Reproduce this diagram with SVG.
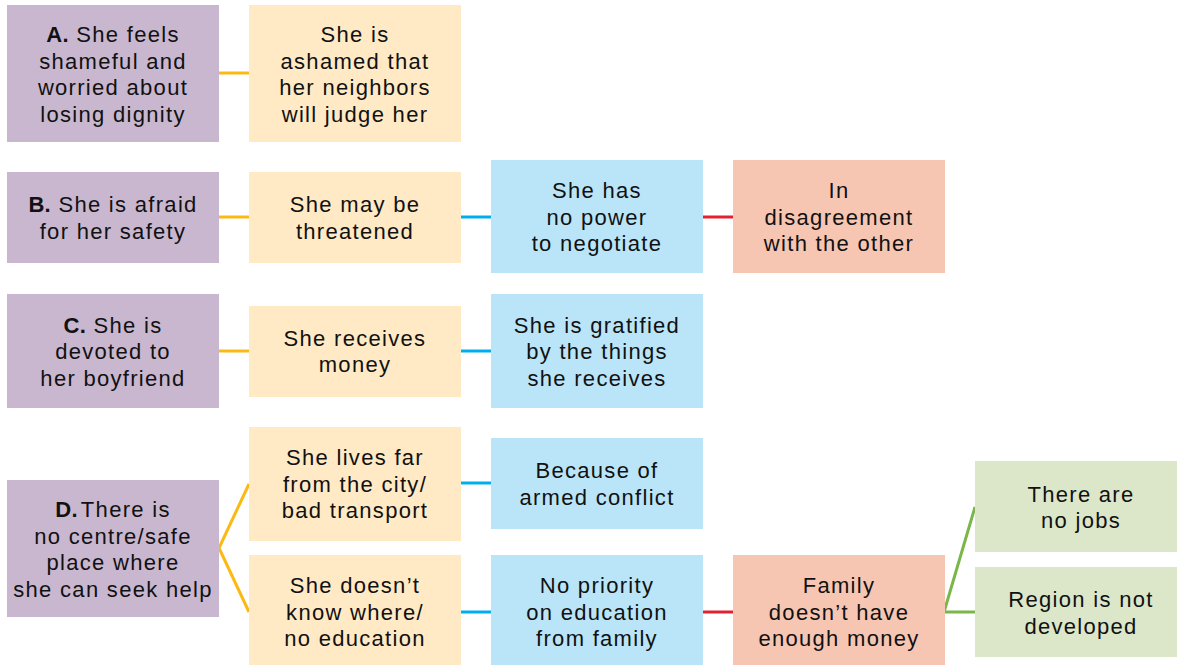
<svg xmlns="http://www.w3.org/2000/svg" width="1177" height="665" viewBox="0 0 1177 665">
<style>
text{font-family:"Liberation Sans",Arial,sans-serif;font-size:22px;fill:#111;text-anchor:middle;letter-spacing:1.3px}
.b{font-weight:bold;letter-spacing:0.3px}
.p{fill:#C9B7CF}.y{fill:#FFEAC5}.bl{fill:#BAE5F8}.r{fill:#F6C6B3}.g{fill:#DCE7CA}
.cy{stroke:#FDB913;stroke-width:3;fill:none}
.cb{stroke:#00AEEF;stroke-width:3;fill:none}
.cr{stroke:#E2202E;stroke-width:3;fill:none}
.cg{stroke:#7AB648;stroke-width:3;fill:none}
</style>
<rect width="1177" height="665" fill="#fff"/>
<g id="connectors">
<line class="cy" x1="219" y1="73" x2="249" y2="73"/>
<line class="cy" x1="219" y1="217" x2="249" y2="217"/>
<line class="cb" x1="461" y1="217" x2="491" y2="217"/>
<line class="cr" x1="703" y1="217" x2="733" y2="217"/>
<line class="cy" x1="219" y1="351" x2="249" y2="351"/>
<line class="cb" x1="461" y1="351" x2="491" y2="351"/>
<polyline class="cy" points="249,484 219,548 249,612"/>
<line class="cb" x1="461" y1="483" x2="491" y2="483"/>
<line class="cb" x1="461" y1="612" x2="491" y2="612"/>
<line class="cr" x1="703" y1="612" x2="733" y2="612"/>
<polyline class="cg" points="975,507 944,612 975,612"/>
</g>
<g id="nodeA">
<rect class="p" x="7" y="5" width="212" height="137"/>
<text x="113" y="42"><tspan class="b">A.</tspan> She feels</text>
<text x="113" y="68.7">shameful and</text>
<text x="113" y="95.4">worried about</text>
<text x="113" y="122.1">losing dignity</text>
</g>
<g id="nodeA1">
<rect class="y" x="249" y="5" width="212" height="137"/>
<text x="355" y="42">She is</text>
<text x="355" y="68.7">ashamed that</text>
<text x="355" y="95.4">her neighbors</text>
<text x="355" y="122.1">will judge her</text>
</g>
<g id="nodeB">
<rect class="p" x="7" y="172" width="212" height="91"/>
<text x="113" y="212"><tspan class="b">B.</tspan> She is afraid</text>
<text x="113" y="238.7">for her safety</text>
</g>
<g id="nodeB1">
<rect class="y" x="249" y="172" width="212" height="91"/>
<text x="355" y="212">She may be</text>
<text x="355" y="238.7">threatened</text>
</g>
<g id="nodeB2">
<rect class="bl" x="491" y="160" width="212" height="113"/>
<text x="597" y="198">She has</text>
<text x="597" y="224.7">no power</text>
<text x="597" y="251.4">to negotiate</text>
</g>
<g id="nodeB3">
<rect class="r" x="733" y="160" width="212" height="113"/>
<text x="839" y="198">In</text>
<text x="839" y="224.7">disagreement</text>
<text x="839" y="251.4">with the other</text>
</g>
<g id="nodeC">
<rect class="p" x="7" y="294" width="212" height="114"/>
<text x="113" y="332.5"><tspan class="b">C.</tspan> She is</text>
<text x="113" y="359.2">devoted to</text>
<text x="113" y="385.9">her boyfriend</text>
</g>
<g id="nodeC1">
<rect class="y" x="249" y="306" width="212" height="91"/>
<text x="355" y="345.5">She receives</text>
<text x="355" y="372.2">money</text>
</g>
<g id="nodeC2">
<rect class="bl" x="491" y="294" width="212" height="114"/>
<text x="597" y="332.5">She is gratified</text>
<text x="597" y="359.2">by the things</text>
<text x="597" y="385.9">she receives</text>
</g>
<g id="nodeD">
<rect class="p" x="7" y="480" width="212" height="137"/>
<text x="113" y="517"><tspan class="b">D.</tspan><tspan dx="3">There is</tspan></text>
<text x="113" y="543.7">no centre/safe</text>
<text x="113" y="570.4">place where</text>
<text x="113" y="597.1">she can seek help</text>
</g>
<g id="nodeD1">
<rect class="y" x="249" y="427" width="212" height="114"/>
<text x="355" y="465">She lives far</text>
<text x="355" y="491.7">from the city/</text>
<text x="355" y="518.4">bad transport</text>
</g>
<g id="nodeD2">
<rect class="y" x="249" y="555" width="212" height="114"/>
<text x="355" y="593">She doesn’t</text>
<text x="355" y="619.7">know where/</text>
<text x="355" y="646.4">no education</text>
</g>
<g id="nodeD1a">
<rect class="bl" x="491" y="438" width="212" height="91"/>
<text x="597" y="478">Because of</text>
<text x="597" y="504.7">armed conflict</text>
</g>
<g id="nodeD2a">
<rect class="bl" x="491" y="555" width="212" height="114"/>
<text x="597" y="593">No priority</text>
<text x="597" y="619.7">on education</text>
<text x="597" y="646.4">from family</text>
</g>
<g id="nodeD2b">
<rect class="r" x="733" y="555" width="212" height="114"/>
<text x="839" y="593">Family</text>
<text x="839" y="619.7">doesn’t have</text>
<text x="839" y="646.4">enough money</text>
</g>
<g id="nodeD2c">
<rect class="g" x="975" y="461" width="212" height="91"/>
<text x="1081" y="501.5">There are</text>
<text x="1081" y="528.2">no jobs</text>
</g>
<g id="nodeD2d">
<rect class="g" x="975" y="567" width="212" height="90"/>
<text x="1081" y="607">Region is not</text>
<text x="1081" y="633.7">developed</text>
</g>
</svg>
